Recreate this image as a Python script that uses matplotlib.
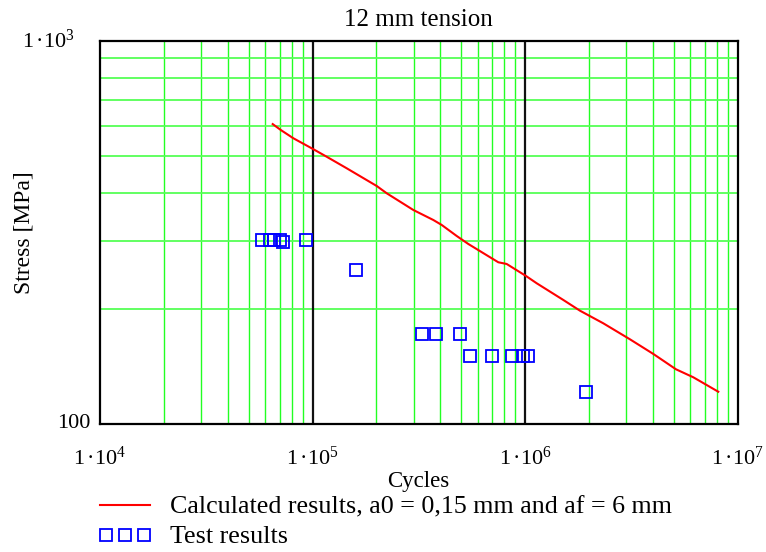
import matplotlib
matplotlib.use("Agg")
import matplotlib.pyplot as plt
from matplotlib.lines import Line2D
from matplotlib.ticker import NullFormatter, NullLocator

plt.rcParams['font.family'] = ['Liberation Serif', 'DejaVu Serif']
plt.rcParams['mathtext.fontset'] = 'custom'
plt.rcParams['mathtext.rm'] = 'Liberation Serif'
plt.rcParams['mathtext.it'] = 'Liberation Serif:italic'

# Calculated curve (cycles, stress MPa)
calc_cycles = [64970, 70850, 81220, 99130, 116660, 144840, 200500, 223500, 298200,
               370300, 405500, 477100, 541000, 748800, 820100, 1010900, 1135000,
               1514000, 1815000, 2336000, 3120000, 4018000, 5136000, 6194000, 8120000]
calc_stress = [606, 585, 556.6, 524, 498, 464.7, 417.8, 399.9, 361.7,
               340.6, 330.6, 309.4, 294.9, 264.2, 261.5, 243.3, 232.9,
               210.7, 197.5, 183.1, 166.3, 152.3, 138.9, 132.4, 121.4]

# Test results
test_cycles = [57700, 63100, 66000, 70300, 72900, 93100, 160000, 327000, 381000,
               494000, 551000, 699000, 869000, 975000, 1033000, 1937000]
test_stress = [302, 302, 302, 302, 298, 302, 252, 172, 172, 172,
               150.5, 150.5, 150.5, 150.5, 150.5, 121]

x_ticks = [1e4, 1e5, 1e6, 1e7]
x_labels = [r'$\mathrm{1\,·10^{4}}$', r'$\mathrm{1\,·10^{5}}$',
            r'$\mathrm{1\,·10^{6}}$', r'$\mathrm{1\,·10^{7}}$']
y_ticks = [100, 1000]
y_labels = ['100', r'$\mathrm{1\,·10^{3}}$']

W, H = 766, 552
fig = plt.figure(figsize=(W / 100, H / 100), dpi=100)
left, right, top, bottom = 100, 737.5, 40.7, 424
ax = fig.add_axes([left / W, 1 - bottom / H, (right - left) / W, (bottom - top) / H])
ax.set_xscale('log')
ax.set_yscale('log')
ax.set_xlim(1e4, 1e7)
ax.set_ylim(100, 1000)

# grid
for dec in [1e4, 1e5, 1e6]:
    for k in range(2, 10):
        ax.axvline(dec * k, color='#22ff22', lw=1.0, zorder=1)
for k in range(2, 10):
    ax.axhline(100 * k, color='#55ff55', lw=1.3, zorder=1)
for v in [1e5, 1e6]:
    ax.axvline(v, color='#111111', lw=1.6, zorder=2)

ax.plot(calc_cycles, calc_stress, color='#ff0000', lw=1.5, zorder=3)
ax.plot(test_cycles, test_stress, linestyle='none', marker='s', ms=8.2,
        mfc='none', mec='#0000ff', mew=1.3, zorder=4)

for s in ax.spines.values():
    s.set_linewidth(1.6)
    s.set_color('black')
    s.set_zorder(5)

ax.xaxis.set_minor_locator(NullLocator())
ax.yaxis.set_minor_locator(NullLocator())
ax.xaxis.set_minor_formatter(NullFormatter())
ax.yaxis.set_minor_formatter(NullFormatter())
ax.set_xticks(x_ticks)
ax.set_xticklabels(x_labels, fontsize=16)
ax.tick_params(axis='x', length=0, pad=16)
ax.set_yticks(y_ticks)
ax.set_yticklabels(['', ''])
ax.tick_params(axis='y', length=0)
ytr = ax.get_yaxis_transform()
ax.text(-10 / (right - left), y_ticks[0], y_labels[0], transform=ytr,
        ha='right', va='center', fontsize=16)
ax.text(-25 / (right - left), y_ticks[1], y_labels[1], transform=ytr,
        ha='right', va='center', fontsize=16)

ax.set_title('12 mm tension', fontsize=18, pad=10.5)
ax.set_xlabel('Cycles', fontsize=16.5, labelpad=1)
ax.set_ylabel('Stress [MPa]', fontsize=17, labelpad=44)

# legend below
fig.add_artist(Line2D([100 / W, 150 / W], [1 - 505 / H, 1 - 505 / H],
                      color='#ff0000', lw=1.5))
fig.text(170 / W, 1 - 507 / H, 'Calculated results, a0 = 0,15 mm and af = 6 mm',
         fontsize=18.7, va='center', ha='left')
fig.add_artist(Line2D([106 / W, 125 / W, 144 / W], [1 - 535 / H] * 3,
                      linestyle='none', marker='s', ms=8.2, mfc='none',
                      mec='#0000ff', mew=1.3))
fig.text(170 / W, 1 - 537 / H, 'Test results', fontsize=18.7, va='center', ha='left')

fig.savefig('out.png', dpi=100)
